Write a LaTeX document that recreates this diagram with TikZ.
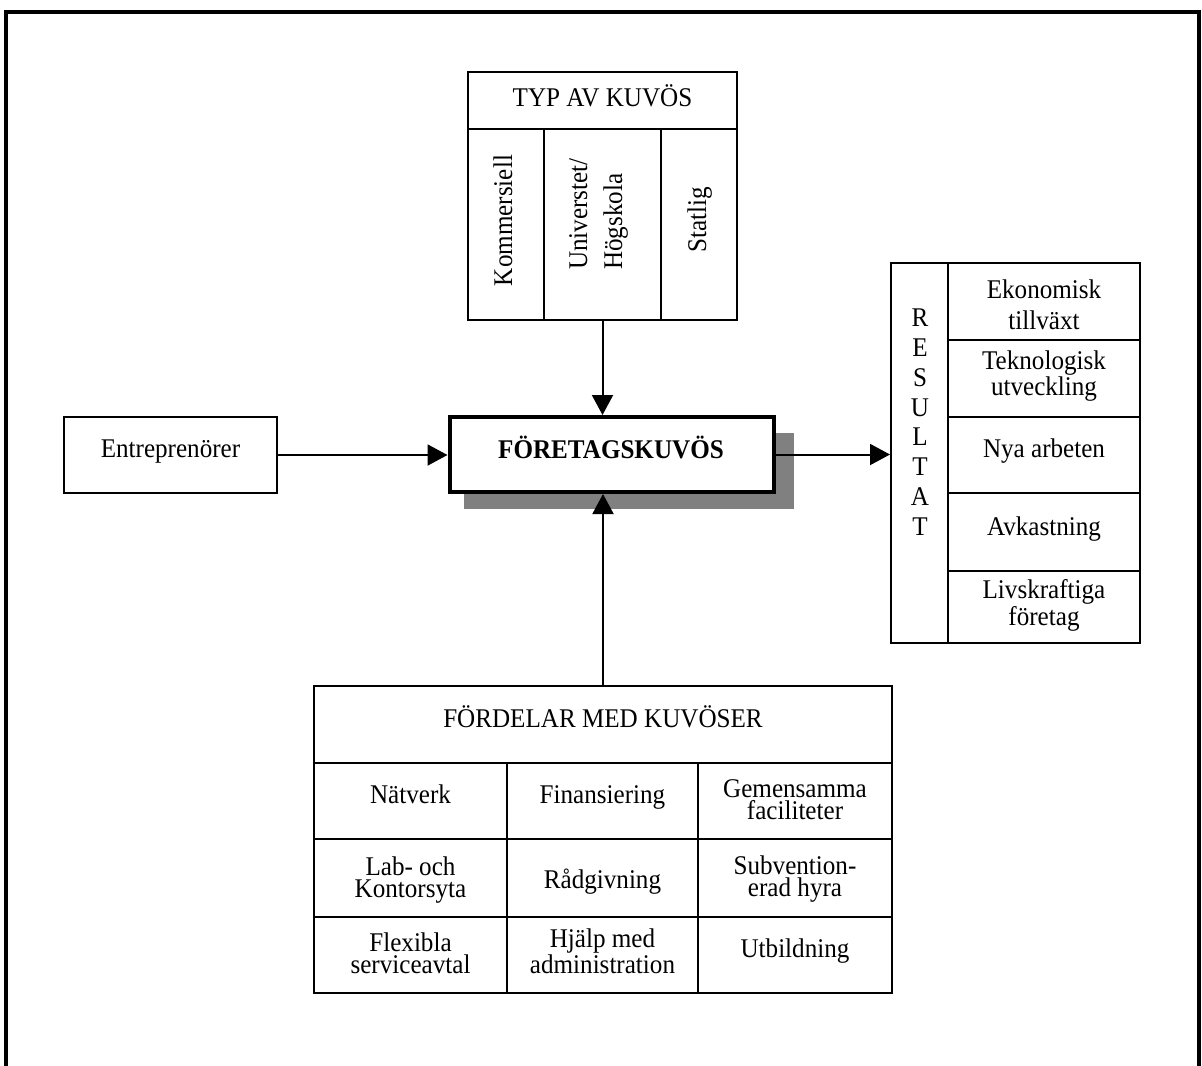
\documentclass[tikz,border=0pt]{standalone}
\usepackage{fontspec}
\setmainfont{Liberation Serif}[FakeStretch=0.93]
\usetikzlibrary{arrows.meta,fit,shadows}
\definecolor{shadowgray}{RGB}{128,128,128}
\tikzset{
  frameline/.style={line width=3pt},
  cell/.style={draw, line width=1.5pt, inner sep=0pt},
  mainbox/.style={draw, line width=3pt, inner sep=0pt, fill=white,
    drop shadow={shadow xshift=12.75pt, shadow yshift=-12pt, opacity=1,
      fill=shadowgray, shadow scale=1.02}},
  lbl/.style={inner sep=0pt, align=center, font=\fontsize{20.25pt}{16.5pt}\selectfont},
  vlbl/.style={lbl, rotate=90},
  flow/.style={line width=1.5pt, -{Triangle[length=15pt,width=15.75pt]}},
}
\begin{document}
\begin{tikzpicture}[x=0.75pt,y=-0.75pt]
\useasboundingbox (0,0) rectangle (1202,1065);

% outer frame, open at the bottom
\draw[frameline] (6,1070) -- (6,11.5) -- (1199,11.5) -- (1199,1070);

% incubator types (multi-line labels are placed by their last baseline)
\node[cell, fit={(468,72) (737,129)}] (typhead) {};
\node[cell, fit={(468,129) (544,320)}] (typA) {};
\node[cell, fit={(544,129) (661,320)}] (typB) {};
\node[cell, fit={(661,129) (737,320)}] (typC) {};
\node[lbl, anchor=base] (typtitle) at (602.5,106) {TYP AV KUVÖS};
\node[vlbl, anchor=base] (kommers) at (512,220.5) {Kommersiell};
\node[vlbl, anchor=base, align=left, font=\fontsize{20.25pt}{26.25pt}\selectfont] (univ) at (622,214) {Universtet/\\Högskola};
\node[vlbl, anchor=base] (statlig) at (706,220) {Statlig};

% central box
\node[mainbox, fit={(449.5,417) (773.5,492)}] (kuvos) {};
\node[lbl, anchor=base, font=\fontsize{20.25pt}{16.5pt}\selectfont\bfseries] (kuvostxt) at (611,458) {FÖRETAGSKUVÖS};

% entrepreneurs
\node[cell, fit={(64.3,417) (276.7,493)}] (entr) {};
\node[lbl, anchor=base] (entrtxt) at (170.5,457) {Entreprenörer};

% results
\node[cell, fit={(891,263) (948,643)}] (reslab) {};
\node[cell, fit={(948,263) (1140,340)}] (res1) {};
\node[cell, fit={(948,340) (1140,417)}] (res2) {};
\node[cell, fit={(948,417) (1140,493)}] (res3) {};
\node[cell, fit={(948,493) (1140,571)}] (res4) {};
\node[cell, fit={(948,571) (1140,643)}] (res5) {};
\node[lbl, anchor=base, font=\fontsize{20.25pt}{22.3pt}\selectfont] (restxt) at (920,535) {R\\E\\S\\U\\L\\T\\A\\T};
\node[lbl, anchor=base, font=\fontsize{20.25pt}{23.25pt}\selectfont] (r1) at (1044,329) {Ekonomisk\\tillväxt};
\node[lbl, anchor=base] (r2) at (1044,395) {Teknologisk\\utveckling};
\node[lbl, anchor=base] (r3) at (1044,457) {Nya arbeten};
\node[lbl, anchor=base] (r4) at (1044,535) {Avkastning};
\node[lbl, anchor=base] (r5) at (1044,625) {Livskraftiga\\företag};

% benefits table
\node[cell, fit={(314,686) (892,763)}] (fhead) {};
\node[cell, fit={(314,763) (507,839)}] (f11) {};
\node[cell, fit={(507,763) (698,839)}] (f12) {};
\node[cell, fit={(698,763) (892,839)}] (f13) {};
\node[cell, fit={(314,839) (507,917)}] (f21) {};
\node[cell, fit={(507,839) (698,917)}] (f22) {};
\node[cell, fit={(698,839) (892,917)}] (f23) {};
\node[cell, fit={(314,917) (507,993)}] (f31) {};
\node[cell, fit={(507,917) (698,993)}] (f32) {};
\node[cell, fit={(698,917) (892,993)}] (f33) {};
\node[lbl, anchor=base] (ftitle) at (603,727) {FÖRDELAR MED KUVÖSER};
\node[lbl, anchor=base] (t11) at (410.5,803) {Nätverk};
\node[lbl, anchor=base] (t12) at (602.5,803) {Finansiering};
\node[lbl, anchor=base] (t13) at (795,819) {Gemensamma\\faciliteter};
\node[lbl, anchor=base] (t21) at (410.5,897) {Lab- och\\Kontorsyta};
\node[lbl, anchor=base] (t22) at (602.5,888) {Rådgivning};
\node[lbl, anchor=base] (t23) at (795,896) {Subvention-\\erad hyra};
\node[lbl, anchor=base] (t31) at (410.5,973) {Flexibla\\serviceavtal};
\node[lbl, anchor=base] (t32) at (602.5,973) {Hjälp med\\administration};
\node[lbl, anchor=base] (t33) at (795,957) {Utbildning};

% connectors
\draw[flow] (typB.south) -- (typB.south |- kuvos.north);
\draw[flow] (entr.east) -- (entr.east -| kuvos.west);
\draw[flow] (kuvos.east) -- (kuvos.east -| reslab.west);
\draw[flow] (fhead.north) -- (fhead.north |- kuvos.south);
\end{tikzpicture}
\end{document}
